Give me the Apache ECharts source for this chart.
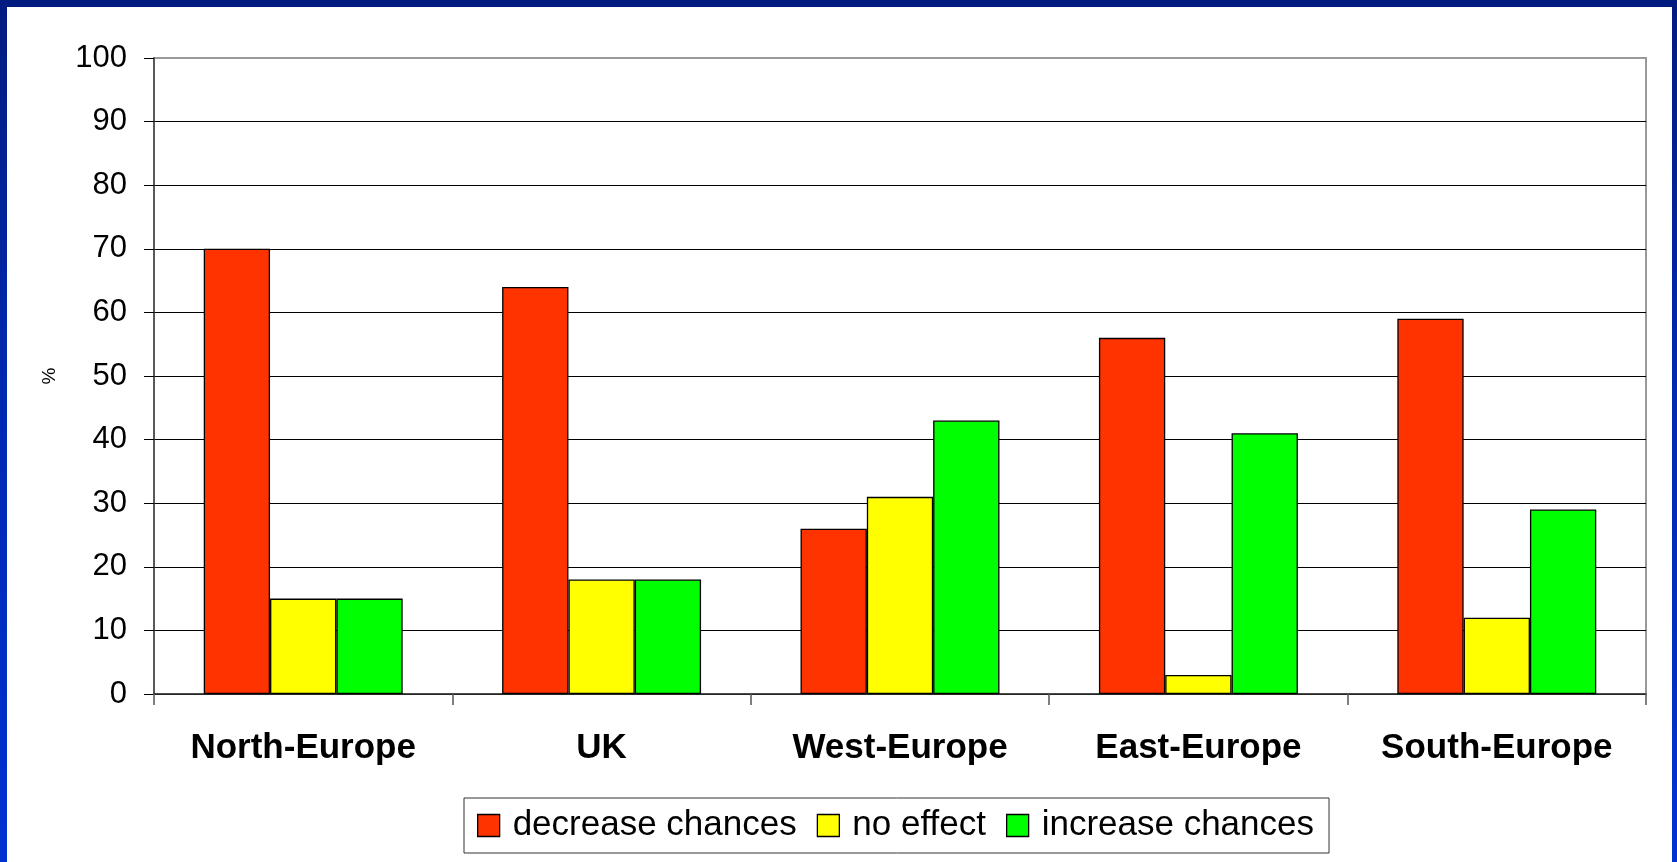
<!DOCTYPE html>
<html>
<head>
<meta charset="utf-8">
<script src="https://cdn.jsdelivr.net/npm/echarts@6/dist/echarts.min.js"></script>
<style>
  html, body { margin: 0; padding: 0; width: 1677px; height: 862px; overflow: hidden; }
  body { background: linear-gradient(to bottom, #001C80 0%, #0028B0 45%, #0032D2 100%); position: relative; }
  #paper { position: absolute; left: 7px; top: 7px; width: 1665px; height: 855px; background: #ffffff; }
  #chart { position: absolute; left: 0; top: 0; width: 1677px; height: 862px; }
</style>
</head>
<body>
<div id="paper"></div>
<div id="chart"></div>
<script>
const categories = ['North-Europe', 'UK', 'West-Europe', 'East-Europe', 'South-Europe'];
const decreaseChances = [70, 64, 26, 56, 59];
const noEffect = [15, 18, 31, 3, 12];
const increaseChances = [15, 18, 43, 41, 29];
const seriesNames = ['decrease chances', 'no effect', 'increase chances'];
const yTicks = { min: 0, max: 100, interval: 10 };

const chart = echarts.init(document.getElementById('chart'), null, { renderer: 'canvas' });
const font = '"Liberation Sans", Arial, sans-serif';
const barBase = {
  type: 'bar',
  barGap: '0%',
  barCategoryGap: '33.33%'
};
chart.setOption({
  animation: false,
  backgroundColor: 'transparent',
  textStyle: { fontFamily: font, color: '#000' },
  grid: {
    left: 154, top: 58, width: 1492, height: 636,
    show: true, borderColor: '#999', borderWidth: 2, backgroundColor: 'transparent'
  },
  legend: {
    left: 464, top: 798,
    padding: [10, 15, 10, 13],
    itemWidth: 22, itemHeight: 22,
    itemGap: 20,
    borderColor: '#333', borderWidth: 1, backgroundColor: '#fff',
    icon: 'rect',
    itemStyle: { borderColor: '#000', borderWidth: 1.3 },
    textStyle: { fontFamily: font, fontSize: 35, color: '#000', lineHeight: 35, padding: [0, 0, 0, 8] },
    data: seriesNames
  },
  xAxis: {
    type: 'category',
    data: categories,
    axisLine: { lineStyle: { color: '#333', width: 1.5 } },
    axisTick: { show: true, interval: 0, length: 11, lineStyle: { color: '#555', width: 1.5 } },
    axisLabel: { interval: 0, fontFamily: font, fontSize: 35, fontWeight: 'bold', color: '#000', margin: 37 },
    splitLine: { show: false }
  },
  yAxis: {
    type: 'value',
    min: yTicks.min, max: yTicks.max, interval: yTicks.interval,
    name: '%',
    nameLocation: 'middle',
    nameGap: 95,
    nameTextStyle: { fontFamily: font, fontSize: 19, color: '#000' },
    axisLine: { show: true, lineStyle: { color: '#444', width: 1.5 } },
    axisTick: { show: true, length: 10, lineStyle: { color: '#000', width: 1 } },
    axisLabel: { fontFamily: font, fontSize: 31, color: '#000', margin: 27 },
    splitLine: { show: true, showMaxLine: false, lineStyle: { color: '#000', width: 1 } }
  },
  series: [
    Object.assign({}, barBase, { name: seriesNames[0], data: decreaseChances, itemStyle: { color: '#FF3300', borderColor: '#000', borderWidth: 1.3 } }),
    Object.assign({}, barBase, { name: seriesNames[1], data: noEffect, itemStyle: { color: '#FFFF00', borderColor: '#000', borderWidth: 1.3 } }),
    Object.assign({}, barBase, { name: seriesNames[2], data: increaseChances, itemStyle: { color: '#00FF00', borderColor: '#000', borderWidth: 1.3 } })
  ]
});
</script>
</body>
</html>
